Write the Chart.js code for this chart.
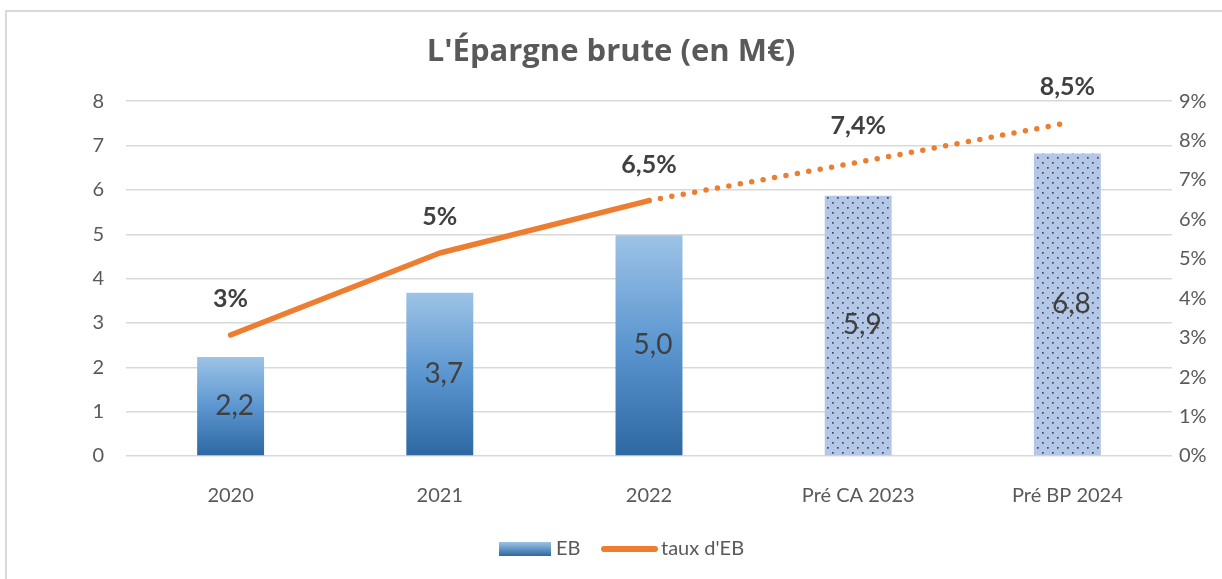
<!DOCTYPE html>
<html>
<head>
<meta charset="utf-8">
<script src="https://cdn.jsdelivr.net/npm/chart.js@4"></script>
<style>
  html, body { margin: 0; padding: 0; background: #fff; overflow: hidden; }
  #frame { position: absolute; left: 5px; top: 10px; width: 1300px; height: 700px; border-left: 2px solid #d9d9d9; border-top: 2px solid #d9d9d9; }
  #wrap { position: absolute; left: 0; top: 0; width: 1222px; height: 579px; }
</style>
</head>
<body>
<div id="frame"></div>
<div id="wrap"><canvas id="myChart" width="1222" height="579"></canvas></div>
<script>
const years = ["2020", "2021", "2022", "Pré CA 2023", "Pré BP 2024"];
const ebValues = [2.23, 3.68, 4.98, 5.87, 6.82];
const ebLabels = ["2,2", "3,7", "5,0", "5,9", "6,8"];
const tauxValues = [3.07, 5.15, 6.48, 7.45, 8.45];
const tauxLabels = ["3%", "5%", "6,5%", "7,4%", "8,5%"];
const firstForecast = 3; // bars from this index are estimates (dotted)

const FONT = "Lato, 'Liberation Sans', sans-serif";
const TITLE_FONT = "'Open Sans', Lato, sans-serif";

// dotted pattern for the forecast bars
const tile = document.createElement('canvas');
tile.width = 10; tile.height = 10;
const tc = tile.getContext('2d');
tc.fillStyle = '#b4c7e7';
tc.fillRect(0, 0, 10, 10);
tc.fillStyle = '#3f4a5c';
tc.fillRect(2, 2, 1.7, 1.7);
tc.fillRect(7, 7, 1.7, 1.7);
const ctx = document.getElementById('myChart').getContext('2d');
const dotPattern = ctx.createPattern(tile, 'repeat');

function barFill(c) {
    if (c.dataIndex >= firstForecast) return dotPattern;
    const chart = c.chart;
    if (!chart.chartArea) return '#5b9bd5';
    const y = chart.scales.y;
    const top = y.getPixelForValue(ebValues[c.dataIndex]);
    const bottom = y.getPixelForValue(0);
    const g = chart.ctx.createLinearGradient(0, top, 0, bottom);
    g.addColorStop(0, '#9dc3e6');
    g.addColorStop(0.5, '#5b96d0');
    g.addColorStop(1, '#2e68a3');
    return g;
}

const labelsPlugin = {
    id: 'valueLabels',
    afterDatasetsDraw(chart) {
        const c = chart.ctx;
        c.save();
        c.textAlign = 'center';
        c.textBaseline = 'middle';
        // bar values in the middle of each bar
        const barMeta = chart.getDatasetMeta(0);
        c.fillStyle = '#404040';
        c.font = "28px " + FONT;
        barMeta.data.forEach((bar, i) => {
            c.fillText(ebLabels[i], bar.x + 4, (bar.y + bar.base) / 2);
        });
        // rate labels above the line
        const lineMeta = chart.getDatasetMeta(1);
        c.font = "bold 25px " + FONT;
        lineMeta.data.forEach((pt, i) => {
            c.fillText(tauxLabels[i], pt.x, pt.y - 36);
        });
        c.restore();
    },
    afterDraw(chart) {
        // legend at the bottom
        const c = chart.ctx;
        const y = 549;
        c.save();
        c.font = "20px " + FONT;
        c.textBaseline = 'middle';
        const g = c.createLinearGradient(0, 542, 0, 556);
        g.addColorStop(0, '#9dc3e6');
        g.addColorStop(1, '#2e68a3');
        c.fillStyle = g;
        c.fillRect(499, 542, 52, 14);
        c.fillStyle = '#595959';
        c.fillText(chart.data.datasets[0].label, 556, y);
        c.strokeStyle = '#ed7d31';
        c.lineWidth = 6;
        c.lineCap = 'round';
        c.beginPath();
        c.moveTo(604, y);
        c.lineTo(655, y);
        c.stroke();
        c.fillText(chart.data.datasets[1].label, 661, y);
        c.restore();
    }
};

const myChart = new Chart(ctx, {
    type: 'bar',
    data: {
        labels: years,
        datasets: [{
            label: 'EB',
            data: ebValues,
            backgroundColor: barFill,
            categoryPercentage: 1,
            barPercentage: 0.32,
            yAxisID: 'y',
            order: 2
        }, {
            type: 'line',
            label: "taux d'EB",
            data: tauxValues,
            yAxisID: 'y1',
            borderColor: '#ed7d31',
            borderWidth: 5.5,
            borderCapStyle: 'round',
            borderJoinStyle: 'round',
            pointRadius: 0,
            tension: 0,
            fill: false,
            order: 1,
            segment: {
                borderDash: c => c.p0DataIndex >= 2 ? [0, 11.6] : undefined
            }
        }]
    },
    options: {
        responsive: false,
        animation: false,
        layout: { padding: 0 },
        plugins: {
            legend: { display: false },
            tooltip: { enabled: false },
            title: {
                display: true,
                text: "L'Épargne brute (en M€)",
                color: '#595959',
                font: { family: TITLE_FONT, size: 31, weight: 'bold' },
                padding: { top: 34, bottom: 30 }
            }
        },
        scales: {
            x: {
                grid: { display: false },
                border: { display: false },
                ticks: { color: '#595959', font: { family: FONT, size: 20 }, padding: 20 },
                afterFit: s => { s.height = 123; }
            },
            y: {
                position: 'left',
                min: 0,
                max: 8,
                grid: { color: '#d9d9d9', lineWidth: 1.5, drawTicks: false },
                border: { display: false },
                ticks: { stepSize: 1, color: '#595959', font: { family: FONT, size: 20 }, padding: 22 },
                afterFit: s => { s.width = 126; }
            },
            y1: {
                position: 'right',
                min: 0,
                max: 9,
                grid: { display: false, drawTicks: false },
                border: { display: false },
                ticks: {
                    stepSize: 1,
                    color: '#595959',
                    font: { family: FONT, size: 20 },
                    padding: 7,
                    callback: v => v + '%'
                },
                afterFit: s => { s.width = 50; }
            }
        }
    },
    plugins: [labelsPlugin]
});
</script>
</body>
</html>
